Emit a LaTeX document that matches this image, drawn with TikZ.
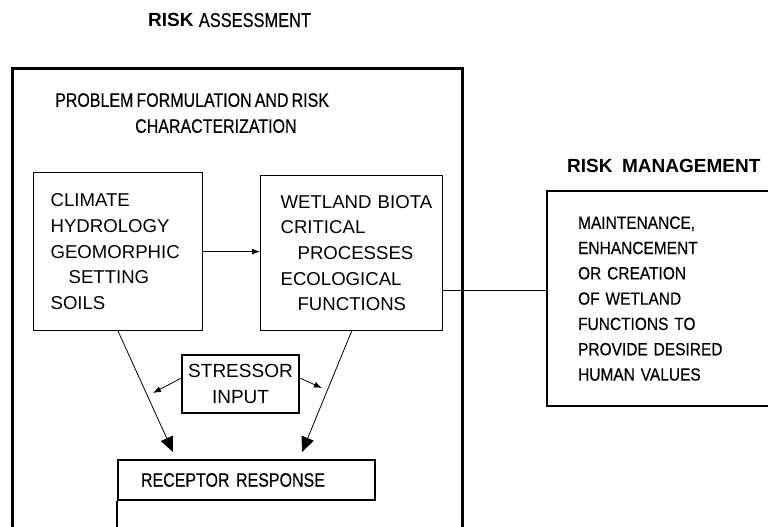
\documentclass[tikz,border=0pt]{standalone}
\usepackage{fontspec}
\setmainfont{Liberation Sans}
\newfontfamily\narrowfont{Liberation Sans}[FakeStretch=0.82,FakeBold=0.4,WordSpace=0.7]
\newfontfamily\slimfont{Liberation Sans}[FakeStretch=0.88,FakeBold=0.4,WordSpace=0.7]
\usetikzlibrary{arrows.meta}

\begin{document}
\begin{tikzpicture}[x=1pt,y=-1pt]
	% Styles for the boxes and arrows
	\tikzset{
		box/.style={draw,line width=1.2pt,inner sep=0pt,font=\fontsize{18.6}{25.7}\selectfont},
		heavybox/.style={draw,line width=2.6pt,inner sep=0pt},
		flow/.style={line width=0.8pt,-{Triangle[length=15pt,width=13pt]}},
		input/.style={line width=0.8pt,-{Latex[length=8pt,width=6pt]}},
		narrow/.style={font=\narrowfont\fontsize{19.5}{26}\selectfont}
	}
	\useasboundingbox (0,0) rectangle (768,527);
	\clip (0,0) rectangle (768,527);

	% Headings
	\node [anchor=base west,inner sep=0pt,font=\fontsize{19}{24}\selectfont] (assesstitle) at (148,27) {\textbf{RISK} {\narrowfont\fontsize{20}{24}\selectfont ASSESSMENT}};
	\node [anchor=base west,inner sep=0pt,font=\bfseries\fontsize{19}{24}\selectfont] (managetitle) at (567,172) {RISK\enspace MANAGEMENT};

	% Assessment side
	\node [heavybox,anchor=north west,minimum width=450,minimum height=500] (assess) at (11,67) {};
	\node [anchor=north west,inner sep=0pt,align=left,narrow] (problem) at (55,93) {PROBLEM FORMULATION AND RISK\\\hspace*{80pt}CHARACTERIZATION};

	\node [box,anchor=north west,minimum width=169,minimum height=158,text width=135,inner xsep=17,align=left] (climate) at (33,172) {CLIMATE\\HYDROLOGY\\GEOMORPHIC\\\hspace*{18pt}SETTING\\SOILS};
	\node [box,anchor=north west,minimum width=182,minimum height=155,text width=142,inner xsep=20,align=left] (wetland) at (260,175) {WETLAND~BIOTA\\CRITICAL\\\hspace*{17pt}PROCESSES\\ECOLOGICAL\\\hspace*{17pt}FUNCTIONS};
	\node [box,line width=1.3pt,minimum width=117,minimum height=58,align=center,font=\fontsize{19}{26}\selectfont] (stressor) at (240.5,384) {STRESSOR\\INPUT};
	\node [heavybox,line width=2pt,anchor=north west,minimum width=257,minimum height=40,text width=211,inner xsep=23,align=left,narrow] (receptor) at (117,459) {RECEPTOR RESPONSE};
	\draw [line width=2pt] (receptor.south west) -- ++(0,40);

	% Management side
	\node [heavybox,line width=2.2pt,anchor=north west,minimum height=215,text width=200,inner xsep=31,align=left,font=\slimfont\fontsize{17.6}{25.3}\selectfont] (manage) at (546,190) {MAINTENANCE,\\ENHANCEMENT\\OR CREATION\\OF WETLAND\\FUNCTIONS TO\\PROVIDE DESIRED\\HUMAN VALUES};

	% Connections
	\coordinate (lhit) at (153,393);
	\coordinate (rhit) at (322,388);
	\draw [input] (climate.east) -- (climate.east -| wetland.west);
	\draw [line width=1.7pt] ([yshift=8pt]manage.west -| wetland.east) -- ([yshift=8pt]manage.west);
	\draw [flow] (climate.south) -- ([xshift=56pt,yshift=7pt]receptor.north west);
	\draw [flow] (wetland.south) -- ([xshift=185pt,yshift=7pt]receptor.north west);
	\draw [input] ([yshift=6pt]stressor.west) -- (lhit);
	\draw [input] ([yshift=6pt]stressor.east) -- (rhit);

\end{tikzpicture}
\end{document}
